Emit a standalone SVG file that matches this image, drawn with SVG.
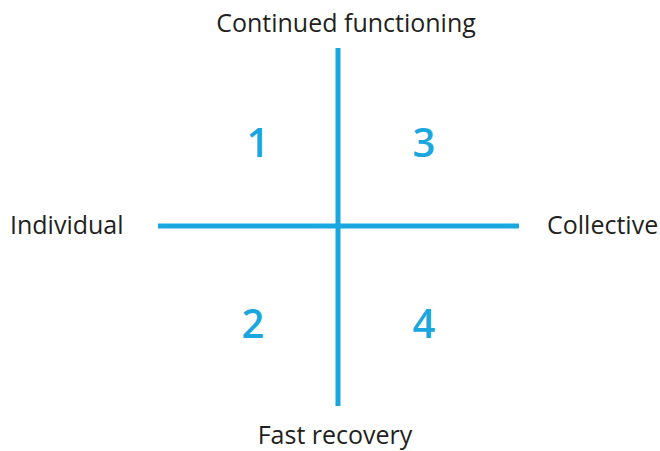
<svg xmlns="http://www.w3.org/2000/svg" width="660" height="451" viewBox="0 0 660 451">
<style>
.lbl{font-family:"Open Sans","Noto Sans",sans-serif;font-size:25px;fill:#231f20}
.num{font-family:"Open Sans","Noto Sans",sans-serif;font-size:40px;font-weight:600;fill:#1aa7e0;text-anchor:middle}
.ax{stroke:#1aa7e0;stroke-width:5;fill:none}
</style>
<rect width="660" height="451" fill="#fff"/>
<g id="connectors">
<line class="ax" x1="338" y1="48" x2="338" y2="406"/>
<line class="ax" x1="158" y1="226" x2="519" y2="226"/>
</g>
<g id="top"><text class="lbl" x="346" y="32" text-anchor="middle">Continued functioning</text></g>
<g id="left"><text class="lbl" x="10" y="234">Individual</text></g>
<g id="right"><text class="lbl" x="547" y="234">Collective</text></g>
<g id="bottom"><text class="lbl" x="335" y="444" text-anchor="middle">Fast recovery</text></g>
<g id="q1"><text class="num" x="258" y="157">1</text></g>
<g id="q3"><text class="num" x="424" y="157">3</text></g>
<g id="q2"><text class="num" x="253" y="338">2</text></g>
<g id="q4"><text class="num" x="424" y="338">4</text></g>
</svg>
